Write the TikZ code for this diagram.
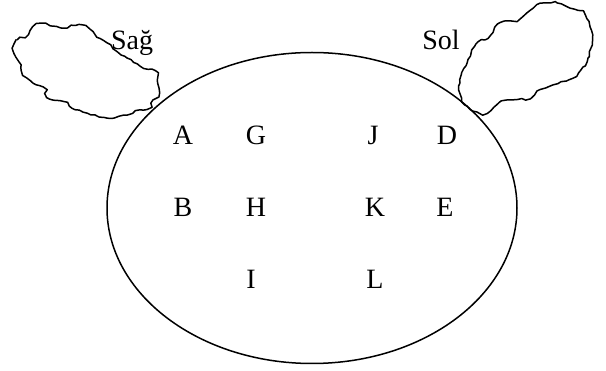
\documentclass[tikz,border=0pt]{standalone}
\usepackage{fontspec}
\setmainfont{Liberation Serif}
\usetikzlibrary{decorations.pathmorphing}

\begin{document}
\begin{tikzpicture}[x=1pt, y=-1pt, line width=1.5pt,
		lbl/.style={font=\fontsize{28}{28}\selectfont, inner sep=0pt},
		lobe/.style={decorate, decoration={random steps, segment length=4pt, amplitude=0.9pt}, line join=round}]
	\useasboundingbox (0,0) rectangle (606,371);
	\pgfmathsetseed{7}
	% body
	\draw (312,208) ellipse [x radius=205, y radius=155.5];
	% the two lobes
	\draw[lobe] plot[smooth cycle, tension=0.6] coordinates {(13,48) (17,40) (25,37) (33,27) (42,24)
		(52,26) (62,28) (67,26) (82,25) (90,30) (97,37) (107,43) (115,50) (127,58) (140,66)
		(155,71) (157,80) (159,93) (153,100) (151,107) (140,110) (127,115) (117,117) (107,118)
		(95,115) (83,112) (72,108) (67,103) (53,100) (47,97) (46,90) (33,83) (23,75) (21,65) (16,57)};
	\draw[lobe] plot[smooth cycle, tension=0.6] coordinates {(460,83) (462,72) (467,63) (472,50) (478,42)
		(488,38) (500,23) (517,21) (527,13) (537,5) (547,3) (557,3) (570,8) (583,12) (590,27)
		(592,40) (588,58) (583,67) (573,78) (553,85) (540,90) (530,98) (510,100) (500,102)
		(487,113) (477,112) (465,105) (460,93)};
	\node[lbl, anchor=base] (sag) at (132,50) {Sağ};
	\node[lbl, anchor=base] (sol) at (441,50) {Sol};
	% letters
	\node[lbl] (a) at (183,135) {A};
	\node[lbl] (g) at (256,135) {G};
	\node[lbl] (j) at (373,135) {J};
	\node[lbl] (d) at (447,135) {D};
	\node[lbl] (b) at (183,207) {B};
	\node[lbl] (h) at (256,207) {H};
	\node[lbl] (k) at (375,207) {K};
	\node[lbl] (e) at (445,207) {E};
	\node[lbl] (i) at (251,279) {I};
	\node[lbl] (l) at (375,279) {L};
\end{tikzpicture}
\end{document}
